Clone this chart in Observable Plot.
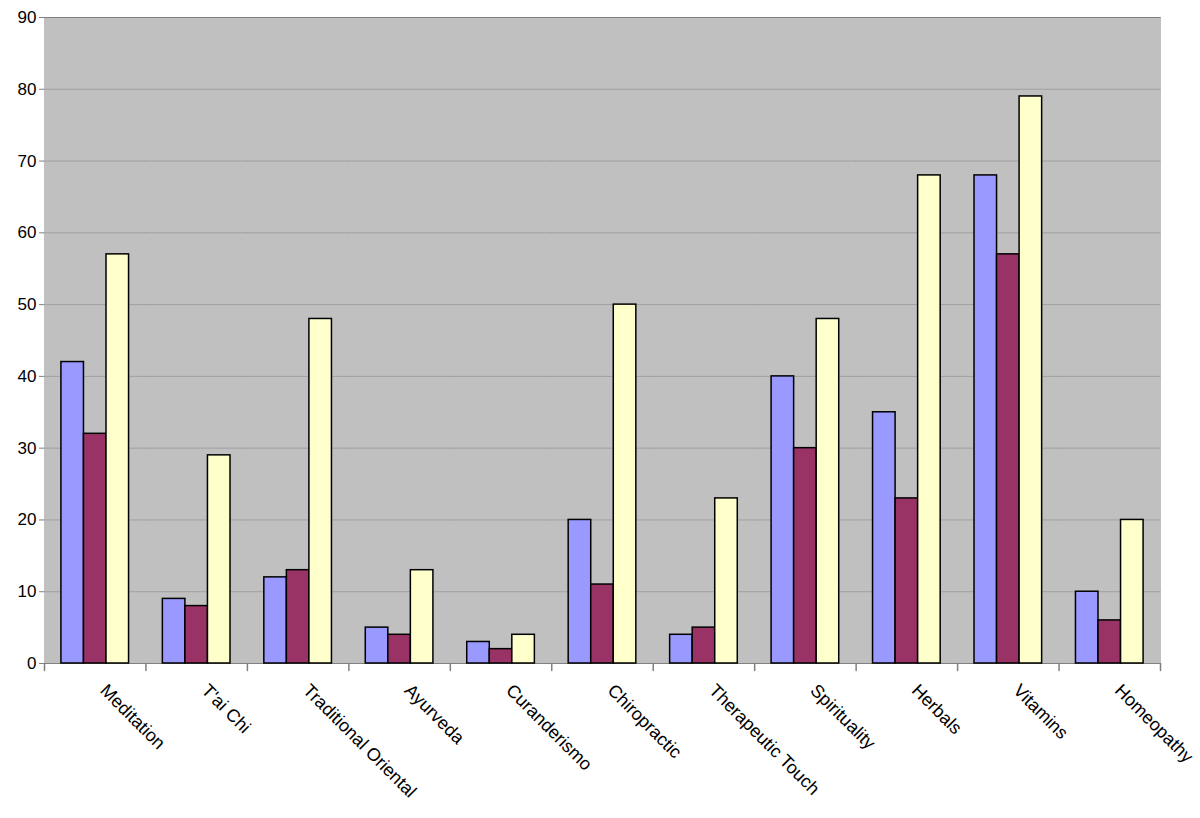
<!DOCTYPE html>
<html>
<head>
<meta charset="utf-8">
<script src="https://cdn.jsdelivr.net/npm/d3@7"></script>
<script src="https://cdn.jsdelivr.net/npm/@observablehq/plot@0.6"></script>
<style>
  html, body { margin: 0; padding: 0; background: white; }
  #chart svg { display: block; }
</style>
</head>
<body>
<div id="chart"></div>
<script>
const categories = ["Meditation", "T'ai Chi", "Traditional Oriental", "Ayurveda", "Curanderismo", "Chiropractic", "Therapeutic Touch", "Spirituality", "Herbals", "Vitamins", "Homeopathy"];
const seriesNames = ["Series 1", "Series 2", "Series 3"];
const series1 = [42, 9, 12, 5, 3, 20, 4, 40, 35, 68, 10];
const series2 = [32, 8, 13, 4, 2, 11, 5, 30, 23, 57, 6];
const series3 = [57, 29, 48, 13, 4, 50, 23, 48, 68, 79, 20];
const yTicks = [0, 10, 20, 30, 40, 50, 60, 70, 80, 90];

const seriesValues = [series1, series2, series3];
const data = categories.flatMap((cat, i) =>
  seriesNames.map((s, j) => ({cat, series: s, value: seriesValues[j][i]}))
);

const tickShape = {
  draw(context, length) {
    context.moveTo(0, 0);
    context.lineTo(0, -length);
  }
};

const chart = Plot.plot({
  width: 1200,
  height: 818,
  marginLeft: 44,
  marginTop: 17,
  marginRight: 40,
  marginBottom: 155,
  style: {fontFamily: "'Liberation Sans', Arial, sans-serif", fontSize: "17px", background: "white", color: "black"},
  fx: {domain: categories, padding: 0, round: false, label: null},
  x: {domain: seriesNames, paddingInner: 0, paddingOuter: 0.75, round: false, axis: null},
  y: {domain: [0, 90], label: null},
  color: {domain: seriesNames, range: ["#9999FF", "#993366", "#FFFFCC"]},
  marks: [
    Plot.frame({fill: "#c0c0c0", insetLeft: -0.5, insetRight: -0.5}),
    Plot.gridY(yTicks, {stroke: "#a0a0a0", strokeOpacity: 1, insetLeft: -0.5, insetRight: -0.5}),
    Plot.ruleY([0, 90], {stroke: "#808080", insetLeft: -0.5, insetRight: -0.5}),
    Plot.barY(data, {fx: "cat", x: "series", y: "value", fill: "series", stroke: "black", strokeWidth: 1.5}),
    Plot.axisY(yTicks, {tickSize: 5, tickPadding: 3, stroke: "#808080", line: true, label: null, fontSize: 17}),
    Plot.axisY({anchor: "right", ticks: [], line: true, stroke: "#808080", label: null}),
    Plot.axisFx({anchor: "bottom", tickRotate: 45, tickSize: 0, tickPadding: 20, label: null, fontSize: 18, dx: 8, dy: 4}),
    Plot.vector(categories, {fx: d => d, frameAnchor: "bottom-left", length: 7, rotate: 180, anchor: "start", stroke: "#808080", shape: tickShape}),
    Plot.vector([categories[categories.length - 1]], {fx: d => d, frameAnchor: "bottom-right", length: 7, rotate: 180, anchor: "start", stroke: "#808080", shape: tickShape})
  ]
});
document.getElementById("chart").appendChild(chart);
</script>
</body>
</html>
